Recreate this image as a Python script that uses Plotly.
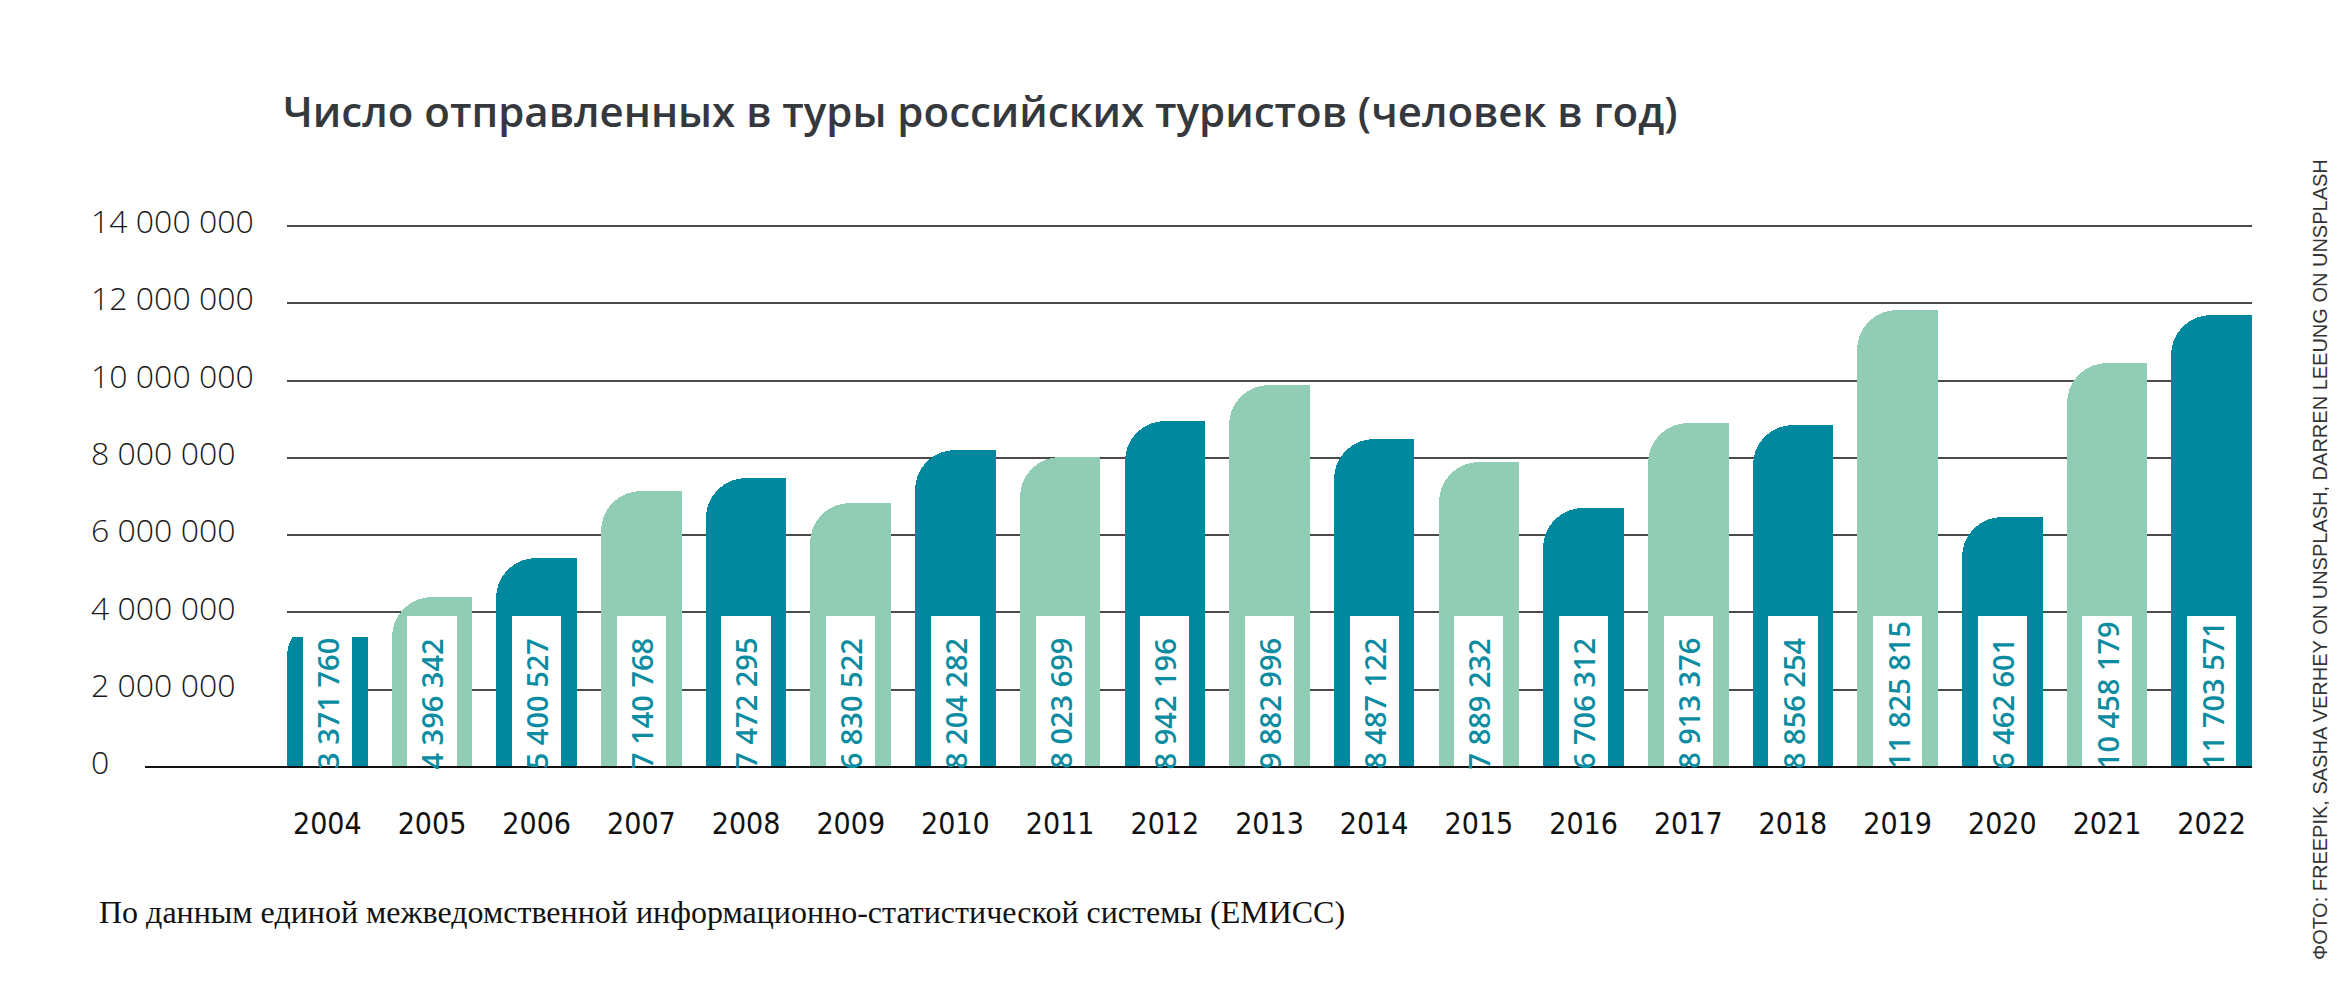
import plotly.graph_objects as go

# ---- data ----
years = ["2004", "2005", "2006", "2007", "2008", "2009", "2010", "2011", "2012", "2013",
         "2014", "2015", "2016", "2017", "2018", "2019", "2020", "2021", "2022"]
tourists = [3371760, 4396342, 5400527, 7140768, 7472295, 6830522, 8204282, 8023699,
            8942196, 9882996, 8487122, 7889232, 6706312, 8913376, 8856254, 11825815,
            6462601, 10458179, 11703571]
y_ticks = [0, 2000000, 4000000, 6000000, 8000000, 10000000, 12000000, 14000000]
y_ticktext = ["0", "2 000 000", "4 000 000", "6 000 000", "8 000 000",
              "10 000 000", "12 000 000", "14 000 000"]

title_text = "Число отправленных в туры российских туристов (человек в год)"
source_text = "По данным единой межведомственной информационно-статистической системы (ЕМИСС)"
credit_text = "ФОТО: FREEPIK, SASHA VERHEY ON UNSPLASH, DARREN LEEUNG ON UNSPLASH"

# ---- style ----
DARK = "#00899e"
LIGHT = "#90cdb4"
LABEL_COLOR = "#0b8ca1"
BAR_W = 0.77
BOX_W = 0.47
BOX_TOP = 3910000
Y_PAD = 800000

W, H = 2337, 987
OFF = 8  # page body margin
X_LEFT, X_RIGHT = 287 - OFF, 2252 - OFF      # plot x-domain in figure px
Y_TOP_VAL, Y_ZERO = 226 - OFF, 767 - OFF     # 14M and 0 in figure px
PX_PER_UNIT = (Y_ZERO - Y_TOP_VAL) / 14000000
ML = 79
MR = W - X_RIGHT
MT = int(round(Y_TOP_VAL - Y_PAD * PX_PER_UNIT))
MB = int(round(H - (Y_ZERO + Y_PAD * PX_PER_UNIT)))
PW = W - ML - MR
PH = H - MT - MB

def px_x(px):
    return (px - OFF - ML) / PW

def px_y(py):
    return (H - MB - (py - OFF)) / PH

colors = [DARK if i % 2 == 0 else LIGHT for i in range(len(years))]
idx = list(range(len(years)))

fig = go.Figure()
# rounded bar (both top corners rounded)
fig.add_trace(go.Bar(x=idx, y=tourists, width=BAR_W,
                     marker=dict(color=colors, line=dict(width=0), cornerradius="50%"),
                     hoverinfo="skip", showlegend=False))
# square right half -> keeps top-right corner square
fig.add_trace(go.Bar(x=idx, y=tourists, width=BAR_W / 2, offset=0,
                     marker=dict(color=colors, line=dict(width=0)), hoverinfo="skip", showlegend=False))
# white label boxes
fig.add_trace(go.Bar(x=idx, y=[BOX_TOP] * len(years), width=BOX_W,
                     marker=dict(color="white", line=dict(width=0)), hoverinfo="skip", showlegend=False))

annotations = []
for i, v in zip(idx, tourists):
    annotations.append(dict(
        x=i, y=0, xref="x", yref="y", text=f"{v:,}".replace(",", " "),
        textangle=-90, xanchor="center", yanchor="bottom", showarrow=False, yshift=-4,
        font=dict(family="Open Sans, Noto Sans, sans-serif", size=29, color=LABEL_COLOR, weight=600),
    ))

annotations.append(dict(
    x=px_x(97), y=px_y(912), xref="paper", yref="paper", text=source_text, xanchor="left", yanchor="middle",
    showarrow=False, font=dict(family="Liberation Serif, DejaVu Serif, serif", size=32, color="#111111"),
))
annotations.append(dict(
    x=px_x(2320), y=px_y(560), xref="paper", yref="paper", text=credit_text, textangle=-90,
    xanchor="center", yanchor="middle", showarrow=False,
    font=dict(family="Liberation Sans, DejaVu Sans, sans-serif", size=20, color="#333333"),
))

shapes = [dict(type="line", xref="paper", yref="y", x0=px_x(145), x1=1, y0=0, y1=0,
               line=dict(color="#111111", width=2), layer="above")]

fig.update_layout(
    width=W, height=H,
    margin=dict(l=ML, r=MR, t=MT, b=MB),
    paper_bgcolor="white", plot_bgcolor="white",
    barmode="overlay", bargap=0,
    title=dict(text=title_text, x=px_x(283), xref="paper", xanchor="left",
               y=1 - (112 - OFF) / H, yref="container", yanchor="middle",
               font=dict(family="Open Sans, Noto Sans, sans-serif", size=42, color="#35383d", weight=600)),
    xaxis=dict(domain=[(X_LEFT - ML) / PW, 1], range=[-0.385, len(years) - 1 + 0.385],
               tickvals=idx, ticktext=years,
               showgrid=False, zeroline=False, showline=False, ticks="", ticklabelstandoff=5,
               tickfont=dict(family="Liberation Sans Narrow, DejaVu Sans Condensed, sans-serif", size=30, color="#111111")),
    yaxis=dict(range=[-Y_PAD, 14000000 + Y_PAD], tickvals=y_ticks, ticktext=y_ticktext, anchor="free", position=0,
               ticklabelposition="inside", ticks="", showline=False, zeroline=False, ticklabelshift=-4,
               showgrid=True, gridcolor="#4a4a4a", gridwidth=2,
               tickfont=dict(family="Open Sans, Roboto, sans-serif", size=32, color="#1a1a1a", weight=300)),
    annotations=annotations,
    shapes=shapes,
)

fig.write_html("out.html")
